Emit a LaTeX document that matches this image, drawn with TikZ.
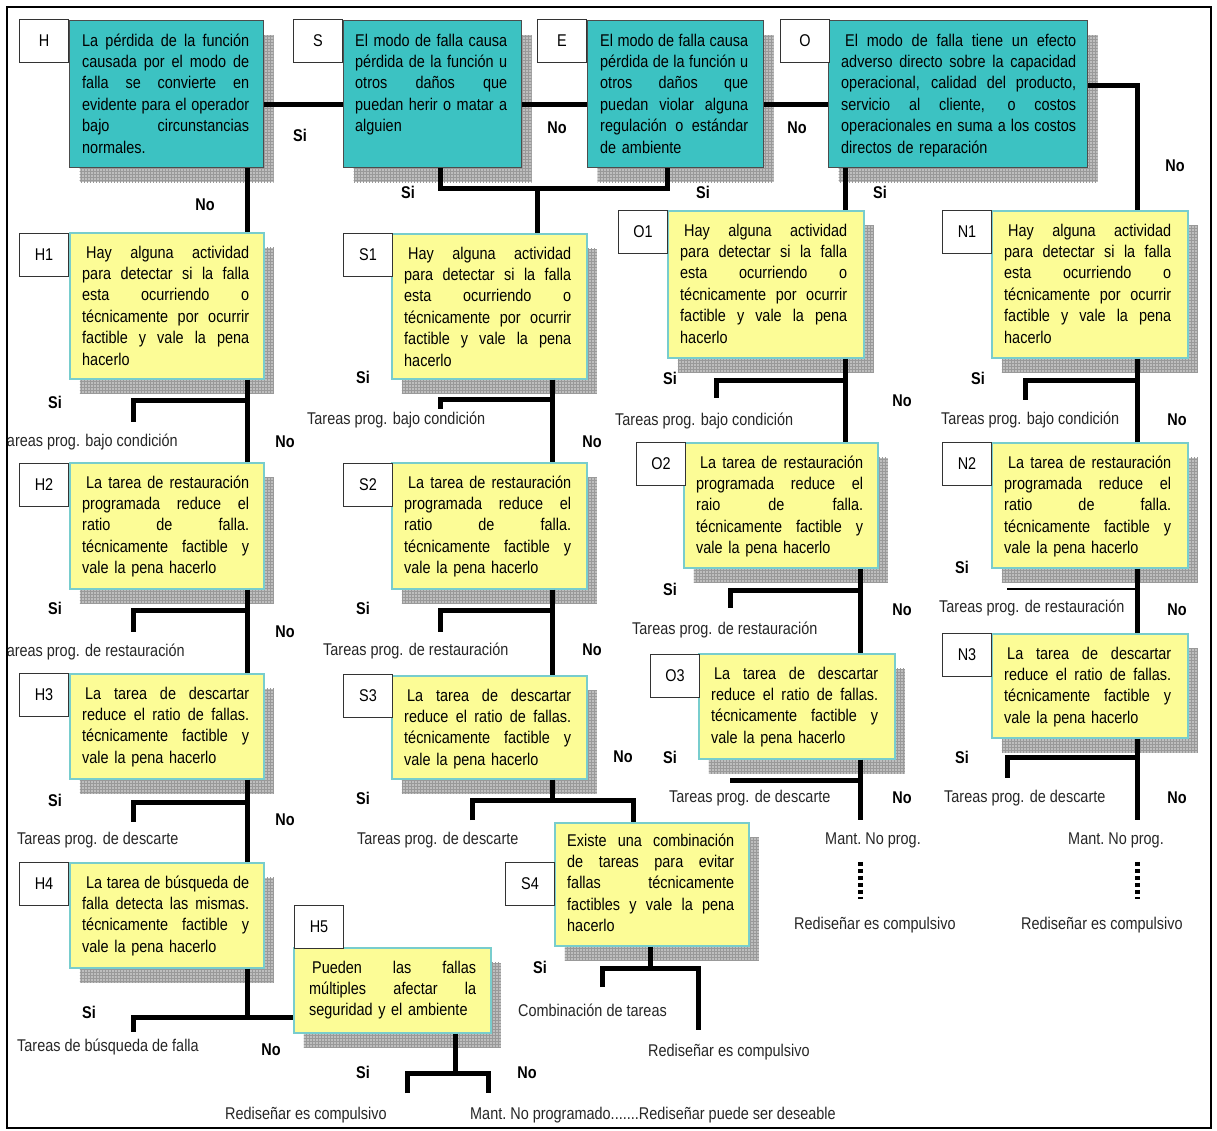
\documentclass[tikz,border=0pt]{standalone}
\usepackage{fontspec}
\setmainfont[FakeStretch=0.85]{Liberation Sans}
\usetikzlibrary{shadows,patterns}

\definecolor{tealfill}{RGB}{60,194,194}
\definecolor{yelfill}{RGB}{252,252,150}
\definecolor{yeledge}{RGB}{120,205,205}
\definecolor{shade}{RGB}{190,190,190}

\newlength\bxw
\newcommand\bxfont{\fontsize{17}{21.4}\selectfont}
\newcommand\jl[1]{\leavevmode\hbox to \bxw{\spaceskip=\fontdimen2\font plus 1fil minus 0.3\fontdimen2\font\relax\strut#1}\\}
\newcommand\detecttext{\jl{\hspace*{4pt}Hay alguna actividad}\jl{para detectar si la falla}\jl{esta ocurriendo o}\jl{técnicamente por ocurrir}\jl{factible y vale la pena}\strut hacerlo}
\newcommand\restoretext[1]{\jl{\hspace*{4pt}La tarea de restauración}\jl{programada reduce el}\jl{#1 de falla.}\jl{técnicamente factible y}\strut vale la pena hacerlo}
\newcommand\discardtext{\jl{\hspace*{3pt}La tarea de descartar}\jl{reduce el ratio de fallas.}\jl{técnicamente factible y}\strut vale la pena hacerlo}

\tikzset{
  boxshadow/.style={drop shadow={shadow xshift=10pt, shadow yshift=-15pt, opacity=1, fill=shade, postaction={pattern=grid, pattern color=black!40}}},
  tealbox/.style={anchor=north west, inner sep=0pt, draw=black!70, line width=1pt, fill=tealfill, boxshadow},
  yelbox/.style={anchor=north west, inner sep=0pt, draw=yeledge, line width=1.6pt, fill=yelfill, boxshadow},
  tag/.style={anchor=north west, inner sep=0pt, draw=black!80, line width=1pt, fill=white, minimum width=49pt, minimum height=43pt, font=\bxfont},
  boxtext/.style={anchor=north west, inner sep=0pt, text width=#1, align=left, font=\bxfont,
    execute at begin node={\setlength{\bxw}{#1}}},
  boxtext/.default=167pt,
  conn/.style={line width=5pt},
  thinconn/.style={line width=1.5pt},
  dots/.style={line width=5pt, dash pattern=on 4pt off 3pt},
  yn/.style={font=\bxfont\bfseries, inner sep=0pt},
  outcome/.style={font=\bxfont, text=black!85, inner sep=0pt, anchor=west}
}

\begin{document}
\begin{tikzpicture}[x=1pt,y=-1pt]
  \useasboundingbox (0,0) rectangle (1217,1131);
  \begin{scope}
    \clip (7,7) rectangle (1211,1128);

    % question boxes
    \node[tealbox, minimum width=194pt, minimum height=147pt] (H) at (69,20) {};
    \node[tealbox, minimum width=178pt, minimum height=147pt] (S) at (343,20) {};
    \node[tealbox, minimum width=176pt, minimum height=147pt] (E) at (587,20) {};
    \node[tealbox, minimum width=259pt, minimum height=147pt] (O) at (828,20) {};
    \node[yelbox, minimum width=194pt, minimum height=146pt] (H1) at (69,232) {};
    \node[yelbox, minimum width=194pt, minimum height=126pt] (H2) at (69,462) {};
    \node[yelbox, minimum width=194pt, minimum height=105pt] (H3) at (69,673) {};
    \node[yelbox, minimum width=194pt, minimum height=105pt] (H4) at (69,862) {};
    \node[yelbox, minimum width=197pt, minimum height=85pt] (H5) at (293,947) {};
    \node[yelbox, minimum width=195pt, minimum height=145pt] (S1) at (391,233) {};
    \node[yelbox, minimum width=195pt, minimum height=126pt] (S2) at (391,462) {};
    \node[yelbox, minimum width=195pt, minimum height=103pt] (S3) at (391,675) {};
    \node[yelbox, minimum width=194pt, minimum height=123pt] (S4) at (554,822) {};
    \node[yelbox, minimum width=196pt, minimum height=147pt] (O1) at (667,210) {};
    \node[yelbox, minimum width=194pt, minimum height=125pt] (O2) at (683,442) {};
    \node[yelbox, minimum width=196pt, minimum height=105pt] (O3) at (698,653) {};
    \node[yelbox, minimum width=196pt, minimum height=147pt] (N1) at (991,210) {};
    \node[yelbox, minimum width=196pt, minimum height=125pt] (N2) at (991,442) {};
    \node[yelbox, minimum width=196pt, minimum height=104pt] (N3) at (991,633) {};

    % box texts
    \node[boxtext] (xH) at ([shift={(13,11)}]H.north west) {\jl{La pérdida de la función}\jl{causada por el modo de}\jl{falla se convierte en}\jl{evidente para el operador}\jl{bajo circunstancias}\strut normales.};
    \node[boxtext=152pt] (xS) at ([shift={(12,11)}]S.north west) {\jl{El modo de falla causa}\jl{pérdida de la función u}\jl{otros daños que}\jl{puedan herir o matar a}\strut alguien};
    \node[boxtext=148pt] (xE) at ([shift={(13,11)}]E.north west) {\jl{El modo de falla causa}\jl{pérdida de la función u}\jl{otros daños que}\jl{puedan violar alguna}\jl{regulación o estándar}\strut de ambiente};
    \node[boxtext=235pt] (xO) at ([shift={(13,11)}]O.north west) {\jl{\hspace*{4pt}El modo de falla tiene un efecto}\jl{adverso directo sobre la capacidad}\jl{operacional, calidad del producto,}\jl{servicio al cliente, o costos}\jl{operacionales en suma a los costos}\strut directos de reparación};
    \node[boxtext] (xH1) at ([shift={(13,11)}]H1.north west) {\detecttext};
    \node[boxtext] (xH2) at ([shift={(13,11)}]H2.north west) {\restoretext{ratio}};
    \node[boxtext] (xH3) at ([shift={(13,11)}]H3.north west) {\discardtext};
    \node[boxtext] (xH4) at ([shift={(13,11)}]H4.north west) {\jl{\hspace*{4pt}La tarea de búsqueda de}\jl{falla detecta las mismas.}\jl{técnicamente factible y}\strut vale la pena hacerlo};
    \node[boxtext] (xH5) at ([shift={(16,11)}]H5.north west) {\jl{\hspace*{3pt}Pueden las fallas}\jl{múltiples afectar la}\strut seguridad y el ambiente};
    \node[boxtext] (xS1) at ([shift={(13,11)}]S1.north west) {\detecttext};
    \node[boxtext] (xS2) at ([shift={(13,11)}]S2.north west) {\restoretext{ratio}};
    \node[boxtext] (xS3) at ([shift={(13,11)}]S3.north west) {\discardtext};
    \node[boxtext] (xS4) at ([shift={(13,9)}]S4.north west) {\jl{Existe una combinación}\jl{de tareas para evitar}\jl{fallas técnicamente}\jl{factibles y vale la pena}\strut hacerlo};
    \node[boxtext] (xO1) at ([shift={(13,11)}]O1.north west) {\detecttext};
    \node[boxtext] (xO2) at ([shift={(13,11)}]O2.north west) {\restoretext{raio}};
    \node[boxtext] (xO3) at ([shift={(13,11)}]O3.north west) {\discardtext};
    \node[boxtext] (xN1) at ([shift={(13,11)}]N1.north west) {\detecttext};
    \node[boxtext] (xN2) at ([shift={(13,11)}]N2.north west) {\restoretext{ratio}};
    \node[boxtext] (xN3) at ([shift={(13,11)}]N3.north west) {\discardtext};

    % letter tags
    \foreach \n/\x/\y in {H/19/19, S/293/19, E/537/19, O/780/19,
        H1/19/233, H2/19/463, H3/19/673, H4/19/862, H5/294/905,
        S1/343/233, S2/343/463, S3/343/674, S4/505/862,
        O1/618/210, O2/636/442, O3/650/654,
        N1/942/210, N2/942/442, N3/942/633}
      \node[tag] (t\n) at (\x,\y) {\n};

    % trunk positions and branch points
    \coordinate (hx) at (247,0);
    \coordinate (sx) at (552,0);
    \coordinate (ox) at (845,0);
    \coordinate (oy) at (860,0);
    \coordinate (nx) at (1137,0);
    \coordinate (sl) at (440,189);
    \coordinate (sm) at (537,189);
    \coordinate (er) at (667,189);
    \coordinate (jH1) at (247,400);  \coordinate (eH1) at (133,422);
    \coordinate (jH2) at (247,610);  \coordinate (eH2) at (133,632);
    \coordinate (jH3) at (247,802);  \coordinate (eH3) at (133,822);
    \coordinate (jH4) at (247,1017); \coordinate (eH4) at (133,1032);
    \coordinate (jH5) at (455,1073); \coordinate (eH5) at (407,1093); \coordinate (nH5) at (488,1093);
    \coordinate (jS1) at (552,399);  \coordinate (eS1) at (440,409);
    \coordinate (jS2) at (552,610);  \coordinate (eS2) at (440,632);
    \coordinate (jS3) at (552,800);  \coordinate (eS3) at (472,820); \coordinate (nS3) at (633,800);
    \coordinate (jS4) at (650,968);  \coordinate (eS4) at (602,987); \coordinate (nS4) at (698,1030);
    \coordinate (jO1) at (845,380);  \coordinate (eO1) at (716,398);
    \coordinate (jO2) at (860,590);  \coordinate (eO2) at (730,608);
    \coordinate (jO3) at (860,780);  \coordinate (eO3) at (730,780); \coordinate (nO3) at (860,820);
    \coordinate (jN1) at (1137,380); \coordinate (eN1) at (1025,400);
    \coordinate (jN2) at (1137,589); \coordinate (eN2) at (1007,589);
    \coordinate (jN3) at (1137,757); \coordinate (eN3) at (1007,778); \coordinate (nN3) at (1137,820);

    % connectors
    \draw[conn] ([yshift=-11pt]H.east) -- ([yshift=-11pt]S.west);
    \draw[conn] ([yshift=-11pt]S.east) -- ([yshift=-11pt]E.west);
    \draw[conn] ([yshift=-11pt]E.east) -- ([yshift=-11pt]O.west);
    \draw[conn] ([yshift=8pt]O.east) -| (N1.north -| nx);
    \draw[conn] (H.south -| hx) -- (H1.north -| hx);
    \draw[conn] (S.south -| sl) |- (er) -- (E.south -| er);
    \draw[conn] (sm) -- (S1.north -| sm);
    \draw[conn] (O.south -| ox) -- (O1.north -| ox);
    \foreach \a/\b/\c in {H1/H2/hx, H2/H3/hx, H3/H4/hx, S1/S2/sx, S2/S3/sx,
        O1/O2/ox, O2/O3/oy, N1/N2/nx, N2/N3/nx}
      \draw[conn] (\a.south -| \c) -- (\b.north -| \c);
    \foreach \j in {H1,H2,H3,S1,S2,O1,O2,N1,N3}
      \draw[conn] (j\j) -| (e\j);
    \draw[conn] (H4.south -| hx) -- (jH4) -- (H5.west |- jH4);
    \draw[conn] (jH4) -| (eH4);
    \draw[conn] (H5.south -| jH5) -- (jH5);
    \draw[conn] (eH5) |- (jH5) -| (nH5);
    \draw[conn] (S3.south -| sx) -- (jS3);
    \draw[conn] (eS3) |- (nS3) -- (S4.north -| nS3);
    \draw[conn] (S4.south -| jS4) -- (jS4);
    \draw[conn] (eS4) |- (jS4) -| (nS4);
    \draw[conn] (O3.south -| oy) -- (nO3);
    \draw[conn] (jO3) -- (eO3);
    \draw[thinconn] (jN2) -- (eN2);
    \draw[conn] (N3.south -| nx) -- (nN3);

    % outcomes
    \node[outcome, anchor=east] (oH1) at (178,442) {Tareas prog. bajo condición};
    \node[outcome, anchor=east] (oH2) at (185,652) {Tareas prog. de restauración};
    \node[outcome] (oH3) at (17,840) {Tareas prog. de descarte};
    \node[outcome] (oH4) at (17,1047) {Tareas de búsqueda de falla};
    \node[outcome] (oH5) at (225,1115) {Rediseñar es compulsivo};
    \node[outcome] (rH5) at (470,1115) {Mant.\ No programado.......Rediseñar puede ser deseable};
    \node[outcome] (oS1) at (307,420) {Tareas prog. bajo condición};
    \node[outcome] (oS2) at (323,651) {Tareas prog. de restauración};
    \node[outcome] (oS3) at (357,840) {Tareas prog. de descarte};
    \node[outcome] (oS4) at (518,1010) {Combinación de tareas};
    \node[outcome] (rS4) at (648,1052) {Rediseñar es compulsivo};
    \node[outcome] (oO1) at (615,421) {Tareas prog. bajo condición};
    \node[outcome] (oO2) at (632,630) {Tareas prog. de restauración};
    \node[outcome] (oO3) at (669,798) {Tareas prog. de descarte};
    \node[outcome] (mO) at (825,840) {Mant.\ No prog.};
    \node[outcome] (rO) at (794,925) {Rediseñar es compulsivo};
    \node[outcome] (oN1) at (941,420) {Tareas prog. bajo condición};
    \node[outcome] (oN2) at (939,608) {Tareas prog. de restauración};
    \node[outcome] (oN3) at (944,798) {Tareas prog. de descarte};
    \node[outcome] (mN) at (1068,840) {Mant.\ No prog.};
    \node[outcome] (rN) at (1021,925) {Rediseñar es compulsivo};
    \draw[dots, shorten <=14pt, shorten >=18pt] (mO.south -| oy) -- (rO.north -| oy);
    \draw[dots, shorten <=14pt, shorten >=18pt] (mN.south -| nx) -- (rN.north -| nx);

    % Si / No answers
    \foreach \x/\y/\t [count=\i] in {300/135/Si, 557/128/No, 797/128/No, 1175/166/No,
        205/205/No, 408/192/Si, 703/192/Si, 880/192/Si,
        55/402/Si, 285/442/No, 55/608/Si, 285/632/No, 55/800/Si, 285/820/No,
        89/1012/Si, 271/1050/No, 363/1072/Si, 527/1073/No,
        363/377/Si, 592/442/No, 363/608/Si, 592/650/No, 363/798/Si, 623/757/No, 540/967/Si,
        670/378/Si, 902/401/No, 670/589/Si, 902/610/No, 670/757/Si, 902/798/No,
        978/378/Si, 1177/420/No, 962/567/Si, 1177/610/No, 962/757/Si, 1177/798/No}
      \node[yn] (yn\i) at (\x,\y) {\t};
  \end{scope}
  \draw[line width=1.5pt] (7,7) rectangle (1211,1128);
\end{tikzpicture}
\end{document}
